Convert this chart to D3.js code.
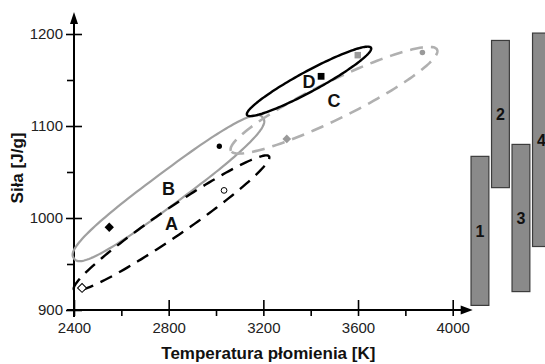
<!DOCTYPE html>
<html>
<head>
<meta charset="utf-8">
<script src="https://cdn.jsdelivr.net/npm/d3@7/dist/d3.min.js"></script>
<style>
  html, body { margin: 0; padding: 0; background: #fff; }
  svg { display: block; font-family: "Liberation Sans", Arial, sans-serif; }
</style>
</head>
<body>
<svg id="chart" width="545" height="364"></svg>
<script>
// Axis ticks
const xTicks = [2400, 2800, 3200, 3600, 4000];
const xMinorTicks = [2600, 3000, 3400, 3800];
const yTicks = [900, 1000, 1100, 1200];
const yMinorTicks = [950, 1050, 1150];

// Outlined regions: major-axis end points (temperature K, force J/g) and half-width (J/g)
const regionNames = ["A", "B", "C", "D"];
const regionStartTemp = [2400, 2400, 3063, 3131];
const regionStartForce = [922, 956, 1073, 1112];
const regionEndTemp = [3224, 3198, 3934, 3655];
const regionEndForce = [1067, 1109, 1183, 1185];
const regionSpread = [15, 17.5, 20.5, 11];

// Individual compositions
const pointTemp = [2434, 2549, 3014, 3034, 3299, 3444, 3599, 3872];
const pointForce = [924, 990, 1078, 1030, 1086, 1154, 1177, 1180];
const pointKind = ["openDiamond", "diamond", "dot", "openCircle", "grayDiamond", "square", "graySquare", "grayDot"];

// Force ranges of the four groups
const rangeIds = ["1", "2", "3", "4"];
const rangeLow = [905, 1033, 920, 969];
const rangeHigh = [1067, 1193, 1080, 1201];

const svg = d3.select("#chart");
const x = d3.scaleLinear().domain([2400, 4000]).range([74, 452.7]);
const y = d3.scaleLinear().domain([900, 1200]).range([310, 34]);

const outlineStyle = {
  A: { stroke: "#000", width: 2.4, dash: "13,8", n: 2 },
  B: { stroke: "#a0a0a0", width: 2.2, dash: null, n: 2.6 },
  C: { stroke: "#b0b0b0", width: 2.6, dash: "13,8", n: 2 },
  D: { stroke: "#000", width: 2.4, dash: null, n: 2 }
};

// ---- Group ranges (bars on the right) ----
const band = d3.scaleBand().domain(rangeIds).range([469.7, 551.7]).paddingInner(0.13).paddingOuter(0.065);
const ranges = rangeIds.map((id, i) => ({ id, lo: rangeLow[i], hi: rangeHigh[i] }));
const rg = svg.append("g");
rg.selectAll("rect").data(ranges).join("rect")
  .attr("x", d => band(d.id))
  .attr("y", d => y(d.hi))
  .attr("width", band.bandwidth())
  .attr("height", d => y(d.lo) - y(d.hi))
  .attr("fill", "#8a8a8a")
  .attr("stroke", "#3c3c3c")
  .attr("stroke-width", 1.2);
rg.selectAll("text").data(ranges).join("text")
  .attr("x", d => band(d.id) + band.bandwidth() / 2)
  .attr("y", d => (y(d.lo) + y(d.hi)) / 2)
  .attr("dy", "0.36em")
  .attr("text-anchor", "middle")
  .attr("font-size", 16)
  .attr("font-weight", "bold")
  .attr("fill", "#111")
  .text(d => d.id);

// ---- Axes ----
const axisX0 = x.range()[0];
const axisY0 = y.range()[0];

const gx = svg.append("g").attr("transform", `translate(0,${axisY0})`)
  .call(d3.axisBottom(x).tickValues(xTicks).tickSize(6).tickPadding(6).tickFormat(d3.format("d")));
gx.select(".domain").remove();
gx.selectAll(".tick line").attr("y1", -10).attr("y2", 6).attr("stroke", "#000").attr("stroke-width", 1.6);
gx.selectAll(".tick text").attr("font-size", 15).attr("fill", "#222").attr("font-family", null);

const gxm = svg.append("g").attr("transform", `translate(0,${axisY0})`)
  .call(d3.axisBottom(x).tickValues(xMinorTicks).tickSize(6).tickFormat(""));
gxm.select(".domain").remove();
gxm.selectAll(".tick line").attr("stroke", "#000").attr("stroke-width", 1.6);

const gy = svg.append("g").attr("transform", `translate(${axisX0},0)`)
  .call(d3.axisLeft(y).tickValues(yTicks).tickSize(8).tickPadding(3).tickFormat(d3.format("d")));
gy.select(".domain").remove();
gy.selectAll(".tick line").attr("x1", 8).attr("stroke", "#000").attr("stroke-width", 1.6);
gy.selectAll(".tick text").attr("font-size", 15).attr("fill", "#222").attr("font-family", null);

const gym = svg.append("g").attr("transform", `translate(${axisX0},0)`)
  .call(d3.axisLeft(y).tickValues(yMinorTicks).tickSize(7).tickFormat(""));
gym.select(".domain").remove();
gym.selectAll(".tick line").attr("stroke", "#000").attr("stroke-width", 1.6);

// axis lines with arrow heads
const xTip = x.range()[1] + 20;
const yTip = y.range()[1] - 22;
svg.append("line").attr("x1", axisX0 - 7).attr("x2", xTip - 6).attr("y1", axisY0).attr("y2", axisY0)
  .attr("stroke", "#000").attr("stroke-width", 2);
svg.append("path")
  .attr("d", `M${xTip},${axisY0} L${xTip - 12},${axisY0 - 4.5} L${xTip - 12},${axisY0 + 4.5} Z`)
  .attr("fill", "#000");
svg.append("line").attr("x1", axisX0).attr("x2", axisX0).attr("y1", axisY0 + 7).attr("y2", yTip + 6)
  .attr("stroke", "#000").attr("stroke-width", 2);
svg.append("path")
  .attr("d", `M${axisX0},${yTip} L${axisX0 - 4},${yTip + 12} L${axisX0 + 4},${yTip + 12} Z`)
  .attr("fill", "#000");

// axis titles
svg.append("text")
  .attr("x", (x.range()[0] + x.range()[1]) / 2 + 5)
  .attr("y", 359)
  .attr("text-anchor", "middle")
  .attr("font-size", 17)
  .attr("font-weight", "bold")
  .attr("fill", "#111")
  .text("Temperatura płomienia [K]");
svg.append("text")
  .attr("transform", `translate(23,${(y.range()[0] + y.range()[1]) / 2 - 4}) rotate(-90)`)
  .attr("text-anchor", "middle")
  .attr("font-size", 17)
  .attr("font-weight", "bold")
  .attr("fill", "#111")
  .text("Siła [J/g]");

// ---- Region outlines ----
const regions = regionNames.map((name, i) => {
  const p1 = [x(regionStartTemp[i]), y(regionStartForce[i])];
  const p2 = [x(regionEndTemp[i]), y(regionEndForce[i])];
  const cx = (p1[0] + p2[0]) / 2, cy = (p1[1] + p2[1]) / 2;
  const a = Math.hypot(p2[0] - p1[0], p2[1] - p1[1]) / 2;
  const b = y(900) - y(900 + regionSpread[i]);
  const th = Math.atan2(p2[1] - p1[1], p2[0] - p1[0]);
  const n = outlineStyle[name].n;
  const pts = d3.range(0, 160).map(k => {
    const phi = (k / 160) * 2 * Math.PI + Math.PI;
    const c = Math.cos(phi), s = Math.sin(phi);
    const u = Math.sign(c) * Math.pow(Math.abs(c), 2 / n) * a;
    const v = Math.sign(s) * Math.pow(Math.abs(s), 2 / n) * b;
    return [cx + u * Math.cos(th) - v * Math.sin(th), cy + u * Math.sin(th) + v * Math.cos(th)];
  });
  return { name, cx, cy, pts };
});
const outline = d3.line().curve(d3.curveLinearClosed);
const drawOrder = ["B", "C", "A", "D"];
svg.append("g").selectAll("path")
  .data(drawOrder.map(nm => regions.find(r => r.name === nm)))
  .join("path")
  .attr("d", d => outline(d.pts))
  .attr("fill", "none")
  .attr("stroke", d => outlineStyle[d.name].stroke)
  .attr("stroke-width", d => outlineStyle[d.name].width)
  .attr("stroke-dasharray", d => outlineStyle[d.name].dash)
  .attr("stroke-linejoin", "round");

// ---- Points ----
// diamonds are squares turned by 45 degrees
const kindStyle = {
  openDiamond: { type: d3.symbolSquare, size: 40, fill: "#fff", stroke: "#000", rot: 45 },
  diamond: { type: d3.symbolSquare, size: 44, fill: "#000", stroke: "none", rot: 45 },
  dot: { type: d3.symbolCircle, size: 22, fill: "#000", stroke: "none", rot: 0 },
  openCircle: { type: d3.symbolCircle, size: 26, fill: "#fff", stroke: "#000", rot: 0 },
  grayDiamond: { type: d3.symbolSquare, size: 38, fill: "#9a9a9a", stroke: "none", rot: 45 },
  square: { type: d3.symbolSquare, size: 46, fill: "#000", stroke: "none", rot: 0 },
  graySquare: { type: d3.symbolSquare, size: 42, fill: "#9a9a9a", stroke: "none", rot: 0 },
  grayDot: { type: d3.symbolCircle, size: 24, fill: "#9a9a9a", stroke: "none", rot: 0 }
};
const points = pointTemp.map((t, i) => ({ t, f: pointForce[i], kind: pointKind[i] }));
svg.append("g").selectAll("path").data(points).join("path")
  .attr("transform", d => `translate(${x(d.t)},${y(d.f)}) rotate(${kindStyle[d.kind].rot})`)
  .attr("d", d => d3.symbol(kindStyle[d.kind].type, kindStyle[d.kind].size)())
  .attr("fill", d => kindStyle[d.kind].fill)
  .attr("stroke", d => kindStyle[d.kind].stroke)
  .attr("stroke-width", 1);

// ---- Region labels at region centres ----
svg.append("g").selectAll("text").data(regions).join("text")
  .attr("x", d => d.cx)
  .attr("y", d => d.cy)
  .attr("dy", "0.36em")
  .attr("text-anchor", "middle")
  .attr("font-size", 18)
  .attr("font-weight", "bold")
  .attr("fill", "#111")
  .text(d => d.name);
</script>
</body>
</html>
